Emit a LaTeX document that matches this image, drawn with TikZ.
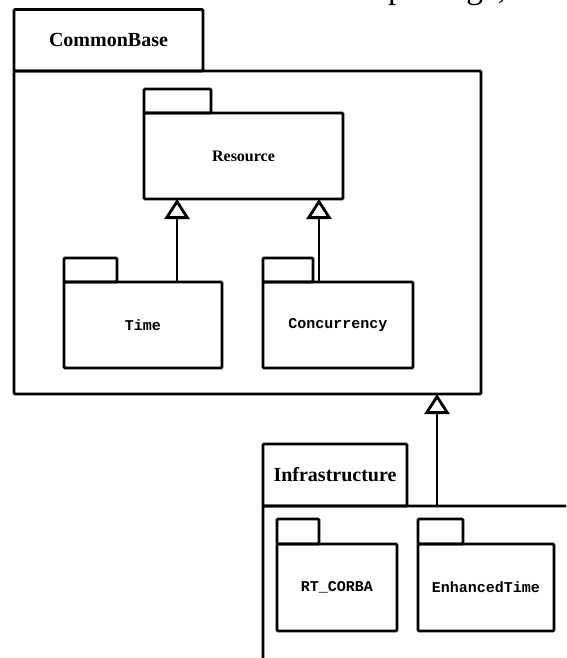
\documentclass[tikz,border=0pt]{standalone}
\usepackage{fontspec}
\setmainfont{Liberation Serif}
\newfontfamily\pkgmono{Liberation Mono}
\usetikzlibrary{arrows.meta}
\begin{document}
\begin{tikzpicture}[x=1pt,y=-1pt,
  outline/.style={draw=black, line width=2.8pt, rounded corners=1.2pt,
    inner sep=0pt, outer sep=0pt},
  pkgbody/.style={outline, anchor=north west},
  pkgtab/.style={outline, anchor=south west},
  bigname/.style={font=\bfseries\fontsize{20}{20}\selectfont},
  midname/.style={font=\bfseries\fontsize{16}{16}\selectfont},
  smallname/.style={font=\pkgmono\bfseries\fontsize{15}{15}\selectfont},
  gen/.style={line width=2.8pt, -{Triangle[open, length=20pt, width=25pt]}}
]
\useasboundingbox (0,0) rectangle (566,658);
\clip (0,0) rectangle (566,658);

% running text of the page above the figure
\node[anchor=base west, inner sep=0pt, font=\fontsize{33.5}{33.5}\selectfont]
  (caption) at (388,-1.3) {package,};

% CommonBase package with its nested packages
\node[pkgbody, minimum width=467pt, minimum height=323pt] (common) at (14,71) {};
\node[pkgtab, bigname, minimum width=189pt, minimum height=61.5pt] (commonTab)
  at (common.north west) {CommonBase};

\node[pkgbody, midname, minimum width=199pt, minimum height=86pt] (resource)
  at (144,113) {Resource};
\node[pkgtab, minimum width=67pt, minimum height=24pt] (resourceTab)
  at (resource.north west) {};

\node[pkgbody, smallname, minimum width=158pt, minimum height=86pt] (time)
  at (64,282) {Time};
\node[pkgtab, minimum width=53pt, minimum height=24pt] (timeTab)
  at (time.north west) {};

\node[pkgbody, smallname, minimum width=150pt, minimum height=86pt] (conc)
  at (263,282) {Concurrency};
\node[pkgtab, minimum width=50pt, minimum height=24pt] (concTab)
  at (conc.north west) {};

% Infrastructure package
\node[pkgbody, minimum width=320pt, minimum height=170pt] (infra) at (263,506) {};
\node[pkgtab, bigname, minimum width=144pt, minimum height=62pt] (infraTab)
  at (infra.north west) {Infrastructure};

\node[pkgbody, smallname, minimum width=120pt, minimum height=87pt] (corba)
  at (277,544) {RT\_CORBA};
\node[pkgtab, minimum width=42pt, minimum height=25pt] (corbaTab)
  at (corba.north west) {};

\node[pkgbody, smallname, minimum width=136pt, minimum height=87pt] (etime)
  at (418,544) {EnhancedTime};
\node[pkgtab, minimum width=45pt, minimum height=25pt] (etimeTab)
  at (etime.north west) {};

% generalisations
\draw[gen] ([xshift=113pt]time.north west) -- ([xshift=33pt]resource.south west);
\draw[gen] ([xshift=56pt]conc.north west) -- ([xshift=175pt]resource.south west);
\draw[gen] ([xshift=174pt]infra.north west) -- ([xshift=-44pt]common.south east);
\end{tikzpicture}
\end{document}
